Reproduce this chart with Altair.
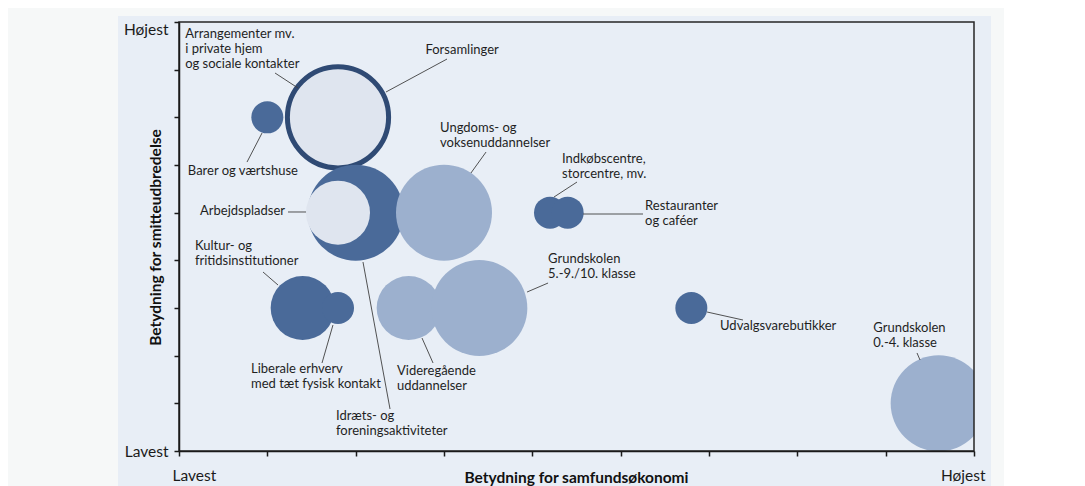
import altair as alt
import pandas as pd

# ---- bubble data ----
kategorier = [
    "Barer og værtshuse",
    "Forsamlinger",
    "Idræts- og foreningsaktiviteter",
    "Arbejdspladser",
    "Ungdoms- og voksenuddannelser",
    "Indkøbscentre, storcentre, mv.",
    "Restauranter og caféer",
    "Kultur- og fritidsinstitutioner",
    "Liberale erhverv med tæt fysisk kontakt",
    "Videregående uddannelser",
    "Grundskolen 5.-9./10. klasse",
    "Udvalgsvarebutikker",
    "Grundskolen 0.-4. klasse",
]
samfundsokonomi = [1.0, 1.8, 2.0, 1.8, 3.0, 4.2, 4.4, 1.4, 1.8, 2.6, 3.4, 5.8, 8.6]
smitteudbredelse = [7, 7, 5, 5, 5, 5, 5, 3, 3, 3, 3, 3, 1]
storrelse = [1, 10, 9, 4, 9, 1, 1, 4, 1, 4, 9, 1, 9]
gruppe = ["Mørk", "Lys", "Mørk", "Lys", "Mellem", "Mørk", "Mørk",
          "Mørk", "Mørk", "Mellem", "Mellem", "Mørk", "Mellem"]

# ---- annotation data (data units) ----
etiketter = [
    "Arrangementer mv.\ni private hjem\nog sociale kontakter",
    "Forsamlinger",
    "Barer og værtshuse",
    "Arbejdspladser",
    "Kultur- og\nfritidsinstitutioner",
    "Liberale erhverv\nmed tæt fysisk kontakt",
    "Idræts- og\nforeningsaktiviteter",
    "Videregående\nuddannelser",
    "Ungdoms- og\nvoksenuddannelser",
    "Indkøbscentre,\nstorcentre, mv.",
    "Restauranter\nog caféer",
    "Grundskolen\n5.-9./10. klasse",
    "Udvalgsvarebutikker",
    "Grundskolen\n0.-4. klasse",
]
etiket_x = [0.07, 2.79, 0.10, 1.20, 0.18, 0.815, 1.777, 2.468, 2.955, 4.336, 5.276, 4.178, 6.125, 7.86]
etiket_y = [8.88, 8.53, 6.01, 5.17, 4.42, 1.856, 0.87, 1.81, 6.91, 6.26, 5.275, 4.164, 2.758, 2.716]
etiket_just = ["left", "left", "left", "right", "left", "left", "left", "left",
               "left", "left", "left", "left", "left", "left"]

streg_x = [1.087, 2.343, 0.94, 1.234, 0.951, 1.619, 2.083, 2.751, 3.305, 4.245, 4.574, 3.94, 5.978, 8.355]
streg_y = [7.93, 7.531, 6.671, 5.014, 3.755, 1.846, 3.965, 2.370, 5.832, 5.328, 4.972, 3.335, 2.916, 2.056]
streg_x2 = [1.347, 3.034, 0.77, 1.438, 1.121, 1.743, 2.389, 2.876, 3.476, 4.506, 5.253, 4.178, 6.385, 8.389]
streg_y2 = [7.615, 8.223, 6.062, 5.014, 3.482, 2.643, 0.881, 1.846, 6.272, 5.643, 4.972, 3.524, 2.748, 1.909]

akse_vaerdier = list(range(10))

bobler = pd.DataFrame({
    "kategori": kategorier,
    "x": samfundsokonomi,
    "y": smitteudbredelse,
    "storrelse": storrelse,
    "gruppe": gruppe,
})
tekster = pd.DataFrame({"tekst": etiketter, "x": etiket_x, "y": etiket_y, "just": etiket_just})
streger = pd.DataFrame({"x": streg_x, "y": streg_y, "x2": streg_x2, "y2": streg_y2})

FONT = "Lato"
TEXT_COL = "#1f1f1f"

xscale = alt.Scale(domain=[0, 9], nice=False, zero=False)
yscale = alt.Scale(domain=[0, 9], nice=False, zero=False)

x_axis = alt.Axis(
    values=akse_vaerdier,
    labelExpr="datum.value == 0 ? 'Lavest' : datum.value == 9 ? 'Højest' : ''",
    labelAlign=alt.ExprRef(expr="datum.value == 0 ? 'left' : 'right'"),
    labelOffset=alt.ExprRef(expr="datum.value == 0 ? -7 : 11"),
    labelPadding=12,
    labelFont=FONT, labelFontSize=15.5, labelColor="#1a1a1a",
    tickSize=5, tickColor="#1a1a1a", tickWidth=1.5,
    domainColor="#1a1a1a", domainWidth=1.5,
    grid=False, zindex=1,
    title="Betydning for samfundsøkonomi",
    titleFont=FONT, titleFontSize=15.5, titleFontWeight="bold", titleColor="#111111",
    titleX=397, titleY=26, titleAlign="center", titleBaseline="middle", titleAnchor="middle",
)
y_axis = alt.Axis(
    values=akse_vaerdier,
    labelExpr="datum.value == 0 ? 'Lavest' : datum.value == 9 ? 'Højest' : ''",
    labelBaseline=alt.ExprRef(expr="datum.value == 9 ? 'top' : 'middle'"),
    labelPadding=6,
    labelFont=FONT, labelFontSize=15.5, labelColor="#1a1a1a",
    tickSize=5, tickColor="#1a1a1a", tickWidth=1.5,
    domainColor="#1a1a1a", domainWidth=1.5,
    grid=False, zindex=1,
    title="Betydning for smitteudbredelse",
    titleFont=FONT, titleFontSize=15.5, titleFontWeight="bold", titleColor="#111111",
    titleX=-24, titleY=215, titleAngle=270, titleAlign="center", titleBaseline="middle",
)

panel = alt.Chart(pd.DataFrame({"p": [0]})).mark_rect(color="#e8eef6").encode(
    x=alt.value(-61), x2=alt.value(812), y=alt.value(-6), y2=alt.value(480)
)

cirkler = alt.Chart(bobler).mark_circle(opacity=1, fillOpacity=1, clip=True, stroke="#2f4a74").encode(
    x=alt.X("x:Q", scale=xscale, axis=x_axis),
    y=alt.Y("y:Q", scale=yscale, axis=y_axis),
    size=alt.Size("storrelse:Q", scale=alt.Scale(type="linear", domain=[0, 9], range=[0, 9216]), legend=None),
    color=alt.Color("gruppe:N",
                    scale=alt.Scale(domain=["Mørk", "Mellem", "Lys"],
                                    range=["#4a6a99", "#9cb0ce", "#dfe5ef"]),
                    legend=None),
    strokeWidth=alt.condition("datum.kategori == 'Forsamlinger'", alt.value(5), alt.value(0)),
)

linjer = alt.Chart(streger).mark_rule(color="#404040", strokeWidth=0.9).encode(
    x=alt.X("x:Q", scale=xscale, axis=x_axis),
    y=alt.Y("y:Q", scale=yscale, axis=y_axis),
    x2="x2:Q", y2="y2:Q",
)


def tekstlag(just):
    return alt.Chart(tekster).transform_filter(
        alt.datum.just == just
    ).mark_text(
        font=FONT, fontSize=13, color=TEXT_COL, baseline="top", align=just,
        lineBreak="\n", lineHeight=15,
    ).encode(
        x=alt.X("x:Q", scale=xscale, axis=x_axis),
        y=alt.Y("y:Q", scale=yscale, axis=y_axis),
        text="tekst:N",
    )


ramme = alt.Chart(pd.DataFrame({"r": [0]})).mark_rect(
    fillOpacity=0, stroke="#262626", strokeWidth=1.5
).encode(
    x=alt.X(datum=0, type="quantitative", scale=xscale, axis=x_axis),
    x2=alt.X2(datum=9),
    y=alt.Y(datum=0, type="quantitative", scale=yscale, axis=y_axis),
    y2=alt.Y2(datum=9),
)

chart = alt.layer(panel, cirkler, linjer, tekstlag("left"), tekstlag("right"), ramme).properties(
    width=795, height=429,
    padding={"left": 171, "top": 14, "right": 30, "bottom": 35},
    autosize=alt.AutoSizeParams(type="none"),
    background="#f6f8f8",
).configure_view(stroke=None)

chart.save("out.html", embed_options={"renderer": "svg", "actions": False})
